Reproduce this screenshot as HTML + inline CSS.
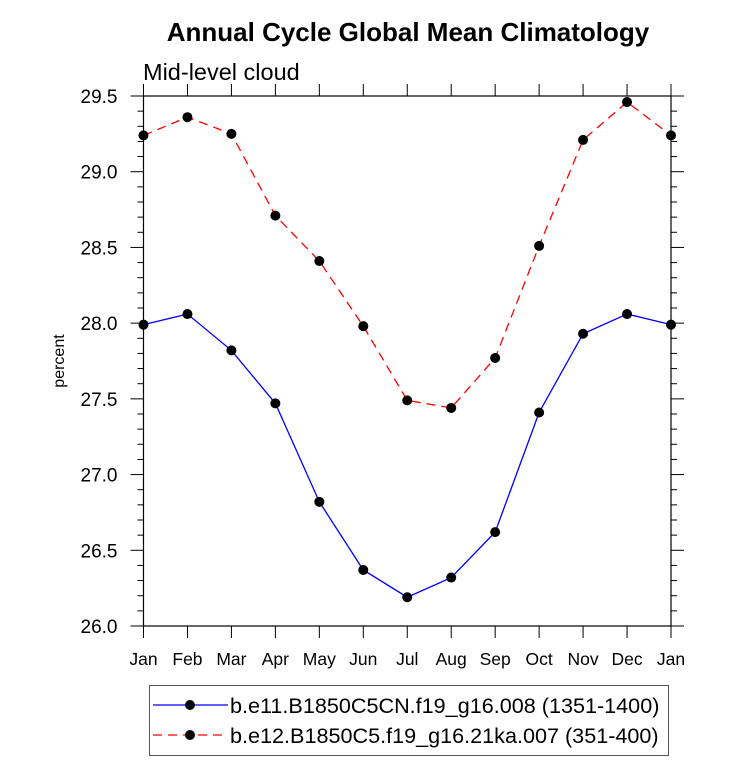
<!DOCTYPE html>
<html><head><meta charset="utf-8"><style>
html,body{margin:0;padding:0;background:#fff;}
svg{display:block;font-family:"Liberation Sans",Arial,sans-serif;}
</style></head><body>
<svg id="chart" width="733" height="761">
<text x="408" y="41" text-anchor="middle" font-size="26" font-weight="bold">Annual Cycle Global Mean Climatology</text>
<text x="143" y="80" font-size="23.5">Mid-level cloud</text>
<text x="64" y="361" font-size="16" text-anchor="middle" transform="rotate(-90 64 361)">percent</text>
<g id="axes"></g>
<g id="series"></g>
<g>
<rect x="149.5" y="685.5" width="519" height="70" fill="none" stroke="#555" stroke-width="1"/>
<line x1="153" y1="705" x2="228" y2="705" stroke="blue" stroke-width="1.3"/>
<circle cx="190" cy="705" r="5" fill="#000"/>
<text x="230" y="713" font-size="21.6">b.e11.B1850C5CN.f19_g16.008 (1351-1400)</text>
<line x1="153" y1="735" x2="228" y2="735" stroke="red" stroke-width="1.3" stroke-dasharray="9,6"/>
<circle cx="190" cy="735" r="5" fill="#000"/>
<text x="230" y="743" font-size="21.6">b.e12.B1850C5.f19_g16.21ka.007 (351-400)</text>
</g>
</svg>
<script>
const months = ["Jan","Feb","Mar","Apr","May","Jun","Jul","Aug","Sep","Oct","Nov","Dec","Jan"];
const blueValues = [27.99,28.06,27.82,27.47,26.82,26.37,26.19,26.32,26.62,27.41,27.93,28.06,27.99];
const redValues = [29.24,29.36,29.25,28.71,28.41,27.98,27.49,27.44,27.77,28.51,29.21,29.46,29.24];
const yTicks = [26.0,26.5,27.0,27.5,28.0,28.5,29.0,29.5];
const yTickLabels = ["26.0","26.5","27.0","27.5","28.0","28.5","29.0","29.5"];
const L=143.5,R=671,T=96,B=626,yMin=26,yMax=29.5;
const NS="http://www.w3.org/2000/svg";
function xs(i){return L+(R-L)*i/(months.length-1);}
function ys(v){return B-(v-yMin)/(yMax-yMin)*(B-T);}
function mk(tag,attrs,parent){const e=document.createElementNS(NS,tag);for(const k in attrs)e.setAttribute(k,attrs[k]);parent.appendChild(e);return e;}
const ax=document.getElementById('axes');
const frame=mk('rect',{x:L,y:T,width:R-L,height:B-T,fill:'none',stroke:'#000','stroke-width':1.2},ax);


for(let i=0;i<months.length;i++){
  const x=xs(i);
  const t=mk('line',{x1:x,y1:B,x2:x,y2:B+12,stroke:'#000','stroke-width':1},ax);
  
  
  const t2=mk('line',{x1:x,y1:T,x2:x,y2:T-12,stroke:'#000','stroke-width':1},ax);
  
  
  const lb=mk('text',{x:x,y:B+39,'text-anchor':'middle','font-size':17.5},ax);
  lb.textContent=months[i];
  
  
}
for(let j=0;j<yTicks.length;j++){
  const y=ys(yTicks[j]);
  const t=mk('line',{x1:L-13,y1:y,x2:L,y2:y,stroke:'#000','stroke-width':1},ax);
  
  
  const t2=mk('line',{x1:R,y1:y,x2:R+13,y2:y,stroke:'#000','stroke-width':1},ax);
  
  
  const lb=mk('text',{x:L-26,y:y+7,'text-anchor':'end','font-size':19},ax);
  lb.textContent=yTickLabels[j];
  
  
  if(j<yTicks.length-1){
    for(let m=1;m<5;m++){
      const ym=ys(yTicks[j]+m*0.1);
      const a=mk('line',{x1:L-6,y1:ym,x2:L,y2:ym,stroke:'#000','stroke-width':1},ax);
      
      
      const b=mk('line',{x1:R,y1:ym,x2:R+6,y2:ym,stroke:'#000','stroke-width':1},ax);
      
      
    }
  }
}
const sg=document.getElementById('series');
function drawSeries(vals,color,dash,name){
  const pts=vals.map((v,i)=>xs(i)+','+ys(v)).join(' ');
  const pl=mk('polyline',{points:pts,fill:'none',stroke:color,'stroke-width':1.3,'stroke-dasharray':dash},sg);
  
  
  vals.forEach((v,i)=>{
    const c=mk('circle',{cx:xs(i),cy:ys(v),r:5,fill:'#000'},sg);
    
    
  });
}
drawSeries(redValues,'red','9,6','red-series');
drawSeries(blueValues,'blue','none','blue-series');
</script>
</body></html>
